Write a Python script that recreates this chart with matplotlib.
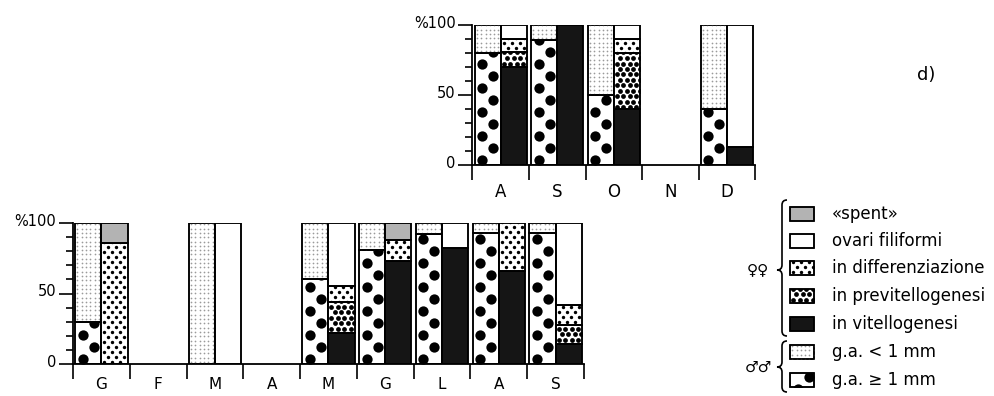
import numpy as np
import matplotlib
matplotlib.use("Agg")
import matplotlib.pyplot as plt
from matplotlib.path import Path
from matplotlib.patches import PathPatch, Rectangle
from matplotlib.transforms import ScaledTranslation

W, H, DPI = 995, 396, 100
plt.rcParams['font.family'] = ['DejaVu Sans']

nan = np.nan

# ---------------- data (percent) ----------------
months_top = ["A", "S", "O", "N", "D"]
males_ge1_top = [80, 89, 50, nan, 40]
males_lt1_top = [20, 11, 50, nan, 60]
fem_vitello_top = [70, 100, 40, nan, 13]
fem_previt_top = [11, 0, 40, nan, 0]
fem_diff_top = [9, 0, 10, nan, 0]
fem_filif_top = [10, 0, 10, nan, 87]
fem_spent_top = [0, 0, 0, nan, 0]

months_bot = ["G", "F", "M", "A", "M", "G", "L", "A", "S"]
males_ge1_bot = [30, nan, 0, nan, 60, 81, 92, 93, 93]
males_lt1_bot = [70, nan, 100, nan, 40, 19, 8, 7, 7]
fem_vitello_bot = [0, nan, 0, nan, 22, 73, 82, 66, 14]
fem_previt_bot = [0, nan, 0, nan, 22, 0, 0, 0, 14]
fem_diff_bot = [86, nan, 0, nan, 11, 15, 0, 34, 14]
fem_filif_bot = [0, nan, 100, nan, 45, 0, 18, 0, 58]
fem_spent_bot = [14, nan, 0, nan, 0, 12, 0, 0, 0]

legend_keys = ["spent", "fil", "diff", "prev", "vit", "lt1", "ge1"]
legend_labels = ["«spent»", "ovari filiformi", "in differenziazione",
                 "in previtellogenesi", "in vitellogenesi",
                 "g.a. < 1 mm", "g.a. ≥ 1 mm"]
y_ticklabels = ["0", "50", "%100"]
panel_tag = "d)"

# ---------------- styles ----------------
STYLE = {
    "ge1": dict(fc="white", dots=dict(dx=22, dy=12, x0=7.5, y0=5, d=10.3, c="black", stagger=True)),
    "lt1": dict(fc="white", dots=dict(dx=4.3, dy=4.3, x0=2.2, y0=2.0, d=1.7, c="#9a9a9a", stagger=False)),
    "vit": dict(fc="#151515"),
    "prev": dict(fc="white", dots=dict(dx=6.5, dy=5.5, x0=3.0, y0=2.5, d=4.8, c="black", stagger=True)),
    "diff": dict(fc="white", dots=dict(dx=8.0, dy=5.0, x0=3.0, y0=2.0, d=3.4, c="black", stagger=True)),
    "fil": dict(fc="white"),
    "spent": dict(fc="#b3b3b3"),
}
GAP = 0.04
BW = 0.46
EDGE_LW = 1.1


def add_dots(ax, patch, left, bottom, width, height, sx, sy, spec, zorder=3):
    d = spec["d"]
    y_lo = bottom * sy
    y_hi = (bottom + height) * sy
    wpx = width * sx
    j0 = int(np.floor((y_lo - d - spec["y0"]) / spec["dy"]))
    j1 = int(np.ceil((y_hi + d - spec["y0"]) / spec["dy"]))
    xs, ys = [], []
    for j in range(j0, j1 + 1):
        py = spec["y0"] + j * spec["dy"]
        off = (j % 2) * spec["dx"] / 2 if spec["stagger"] else 0
        px = spec["x0"] + off
        while px < wpx:
            xs.append(left + px / sx)
            ys.append(py / sy)
            px += spec["dx"]
    sc = ax.scatter(xs, ys, s=(d * 72 / DPI) ** 2, c=spec["c"], linewidths=0,
                    marker="o", zorder=zorder)
    sc.set_clip_path(patch)


def draw_panel(ax, box, months, ge1, lt1, vit, prev, diff, filif, spent,
               lab_size, lab_pad):
    n = len(months)
    sx = box[2] / n
    sy = box[3] / 100.0
    for i in range(n):
        if np.isnan(ge1[i]):
            continue
        groups = [
            (i + GAP, [("ge1", ge1[i]), ("lt1", lt1[i])]),
            (i + GAP + BW, [("vit", vit[i]), ("prev", prev[i]), ("diff", diff[i]),
                            ("fil", filif[i]), ("spent", spent[i])]),
        ]
        for left, segs in groups:
            bottom = 0.0
            for key, val in segs:
                if val <= 0:
                    continue
                st = STYLE[key]
                bars = ax.bar(left, val, width=BW, bottom=bottom, align="edge",
                              color=st["fc"], edgecolor="black", linewidth=EDGE_LW, zorder=2)
                if "dots" in st:
                    add_dots(ax, bars[0], left, bottom, BW, val, sx, sy, st["dots"])
                ax.bar(left, val, width=BW, bottom=bottom, align="edge", fill=False,
                       edgecolor="black", linewidth=EDGE_LW, zorder=4)
                bottom += val

    ax.set_xlim(0, n)
    ax.set_ylim(0, 100)
    ax.set_xticks(np.arange(n + 1))
    ax.set_xticklabels([])
    ax.set_xticks(np.arange(n) + 0.5, minor=True)
    ax.set_xticklabels(months, minor=True, fontsize=lab_size)
    ax.tick_params(axis="x", which="major", length=11, width=1.2, direction="out")
    ax.tick_params(axis="x", which="minor", length=0, pad=lab_pad)
    ax.set_yticks([0, 50, 100])
    ax.set_yticklabels(y_ticklabels, fontsize=10.5)
    ax.set_yticks(np.arange(0, 101, 10), minor=True)
    ax.tick_params(axis="y", which="major", length=10, width=1.2, pad=2)
    ax.tick_params(axis="y", which="minor", length=5, width=1.2)
    for lab in ax.get_yticklabels():
        lab.set_transform(lab.get_transform() + ScaledTranslation(0, 0.03, ax.figure.dpi_scale_trans))
    for s in ("top", "right"):
        ax.spines[s].set_visible(False)
    for s in ("left", "bottom"):
        ax.spines[s].set_linewidth(1.3)
    ax.patch.set_alpha(0)


fig = plt.figure(figsize=(W / DPI, H / DPI), dpi=DPI, facecolor="white")

# boxes in pixels: (left, top, width, height)
top_box = (472.5, 25, 282.5, 140)
bot_box = (73, 223, 511, 141)


def add_ax(box):
    l, t, w, h = box
    return fig.add_axes([l / W, (H - t - h) / H, w / W, h / H])


ax_top = add_ax(top_box)
draw_panel(ax_top, top_box, months_top, males_ge1_top, males_lt1_top, fem_vitello_top,
           fem_previt_top, fem_diff_top, fem_filif_top, fem_spent_top, 12, 13)
ax_bot = add_ax(bot_box)
draw_panel(ax_bot, bot_box, months_bot, males_ge1_bot, males_lt1_bot, fem_vitello_bot,
           fem_previt_bot, fem_diff_bot, fem_filif_bot, fem_spent_bot, 11, 9.5)

# ---------------- overlay (legend, braces, tag) in pixel coords ----------------
ov = fig.add_axes([0, 0, 1, 1])
ov.set_xlim(0, W)
ov.set_ylim(H, 0)
ov.axis("off")
ov.patch.set_alpha(0)

rows_y = [214, 241, 268, 296, 324, 352, 380]
for y, key, label in zip(rows_y, legend_keys, legend_labels):
    st = STYLE[key]
    r = Rectangle((790, y - 7), 24, 14, facecolor=st["fc"], edgecolor="black",
                  linewidth=EDGE_LW, zorder=2)
    ov.add_patch(r)
    if "dots" in st:
        add_dots(ov, r, 790, y - 7, 24, 14, 1.0, 1.0, st["dots"])
    ov.add_patch(Rectangle((790, y - 7), 24, 14, fill=False, edgecolor="black",
                           linewidth=EDGE_LW, zorder=4))
    ov.text(832, y, label, ha="left", va="center", fontsize=12)


def brace(ax, x, y0, y1, ym, w=5, lw=1.2):
    verts = [(x + w, y0), (x, y0), (x, y0 + w),
             (x, ym - w), (x, ym), (x - w, ym),
             (x, ym), (x, ym + w),
             (x, y1 - w), (x, y1), (x + w, y1)]
    codes = [Path.MOVETO, Path.CURVE3, Path.CURVE3,
             Path.LINETO, Path.CURVE3, Path.CURVE3,
             Path.CURVE3, Path.CURVE3,
             Path.LINETO, Path.CURVE3, Path.CURVE3]
    ax.add_patch(PathPatch(Path(verts, codes), fill=False, lw=lw, edgecolor="black"))


brace(ov, 782, 200, 336, 270)
brace(ov, 782, 341, 392, 367)
ov.text(758, 270, "♀♀", ha="center", va="center", fontsize=11)
ov.text(758, 367, "♂♂", ha="center", va="center", fontsize=11)
ov.text(926, 75, panel_tag, ha="center", va="center", fontsize=13)

fig.savefig("out.png", dpi=DPI, facecolor="white")
